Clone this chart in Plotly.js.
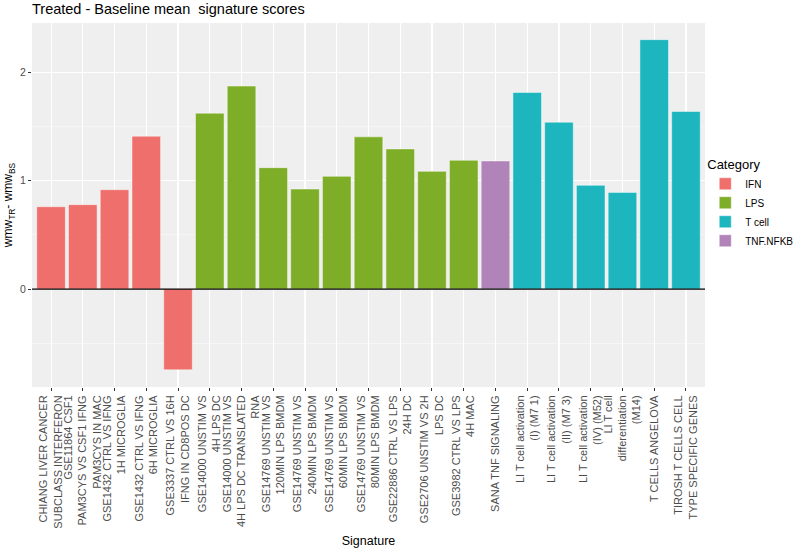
<!DOCTYPE html>
<html>
<head>
<meta charset="utf-8">
<script src="https://cdn.plot.ly/plotly-3.0.1.min.js"></script>
<style>html,body{margin:0;padding:0;background:#fff;}#chart{width:796px;height:548px;}</style>
</head>
<body>
<div id="chart"></div>
<script>
const signatures = [
  "CHIANG LIVER CANCER<br>SUBCLASS INTERFERON",
  "GSE11864 CSF1<br>PAM3CYS VS CSF1 IFNG<br>PAM3CYS IN MAC",
  "GSE1432 CTRL VS IFNG<br>1H MICROGLIA",
  "GSE1432 CTRL VS IFNG<br>6H MICROGLIA",
  "GSE3337 CTRL VS 16H<br>IFNG IN CD8POS DC",
  "GSE14000 UNSTIM VS<br>4H LPS DC",
  "GSE14000 UNSTIM VS<br>4H LPS DC TRANSLATED<br>RNA",
  "GSE14769 UNSTIM VS<br>120MIN LPS BMDM",
  "GSE14769 UNSTIM VS<br>240MIN LPS BMDM",
  "GSE14769 UNSTIM VS<br>60MIN LPS BMDM",
  "GSE14769 UNSTIM VS<br>80MIN LPS BMDM",
  "GSE22886 CTRL VS LPS<br>24H DC",
  "GSE2706 UNSTIM VS 2H<br>LPS DC",
  "GSE3982 CTRL VS LPS<br>4H MAC",
  "SANA TNF SIGNALING",
  "LI T cell activation<br>(I) (M7 1)",
  "LI T cell activation<br>(II) (M7 3)",
  "LI T cell activation<br>(IV) (M52)",
  "LI T cell<br>differentiation<br>(M14)",
  "T CELLS ANGELOVA",
  "TIROSH T CELLS CELL<br>TYPE SPECIFIC GENES"
];
const scores = [0.759, 0.778, 0.916, 1.409, -0.744, 1.621, 1.871, 1.119, 0.922, 1.039, 1.403,
                1.292, 1.085, 1.187, 1.181, 1.812, 1.538, 0.956, 0.891, 2.299, 1.637];
const category = ["IFN","IFN","IFN","IFN","IFN","LPS","LPS","LPS","LPS","LPS","LPS",
                  "LPS","LPS","LPS","TNF.NFKB","T cell","T cell","T cell","T cell","T cell","T cell"];
const legendOrder = ["IFN","LPS","T cell","TNF.NFKB"];
const colors = {"IFN":"#EE6F6B","LPS":"#7EAD28","T cell":"#1EB6BE","TNF.NFKB":"#B083B9"};

const traces = legendOrder.map(cat => {
  const xs = [], ys = [];
  signatures.forEach((s, i) => { if (category[i] === cat) { xs.push(s); ys.push(scores[i]); } });
  return {
    type: "bar", name: cat, x: xs, y: ys, width: 0.9,
    marker: {color: colors[cat], line: {color: "rgba(255,255,255,0.45)", width: 1}},
    hoverinfo: "x+y"
  };
});

const layout = {
  width: 796, height: 548,
  margin: {l: 32, r: 91, t: 23, b: 161},
  paper_bgcolor: "#ffffff",
  plot_bgcolor: "#EFEFEF",
  font: {family: "Liberation Sans, Arial, sans-serif", color: "#000"},
  barmode: "overlay",
  title: {text: "Treated - Baseline mean \u00A0signature scores", x: 0, xref: "paper", xanchor: "left",
          y: 1, yref: "container", yanchor: "top", pad: {t: 4},
          font: {size: 14.5, color: "#000"}},
  xaxis: {
    type: "category", categoryorder: "array", categoryarray: signatures,
    range: [-0.6, signatures.length - 0.4],
    tickangle: -90, tickfont: {size: 11, color: "#4D4D4D"},
    ticks: "outside", ticklen: 3, tickcolor: "#333", tickwidth: 1,
    showgrid: true, gridcolor: "#FFFFFF", gridwidth: 1.1,
    zeroline: false, showline: false, automargin: false,
    title: {text: "Signature", font: {size: 12.5, color: "#000"}, standoff: 12}
  },
  yaxis: {
    range: [-0.9025, 2.4525],
    tickvals: [0, 1, 2], ticktext: ["0", "1", "2"],
    tickfont: {size: 10.5, color: "#4D4D4D"},
    ticks: "outside", ticklen: 3, tickcolor: "#333", tickwidth: 1,
    showgrid: true, gridcolor: "#FFFFFF", gridwidth: 1.1,
    minor: {tickvals: [-0.5, 0.5, 1.5], showgrid: true, gridcolor: "#FAFAFA", gridwidth: 0.6, ticks: ""},
    zeroline: false, showline: false, automargin: false,
    title: {text: "wmw<sub>TR</sub>- wmw<sub>BS</sub>", font: {size: 12, color: "#000"}, standoff: 4}
  },
  shapes: [{type: "line", xref: "paper", x0: 0, x1: 1, yref: "y", y0: 0, y1: 0,
            line: {color: "#000", width: 1.2}}],
  legend: {
    xref: "container", yref: "container",
    x: 0.886, xanchor: "left", y: 0.722, yanchor: "top",
    title: {text: "Category", font: {size: 13, color: "#000"}},
    font: {size: 10, color: "#000"}, bgcolor: "rgba(0,0,0,0)",
    traceorder: "normal", itemclick: false
  },
  showlegend: true
};

Plotly.newPlot("chart", traces, layout, {displayModeBar: false, staticPlot: true});
</script>
</body>
</html>
